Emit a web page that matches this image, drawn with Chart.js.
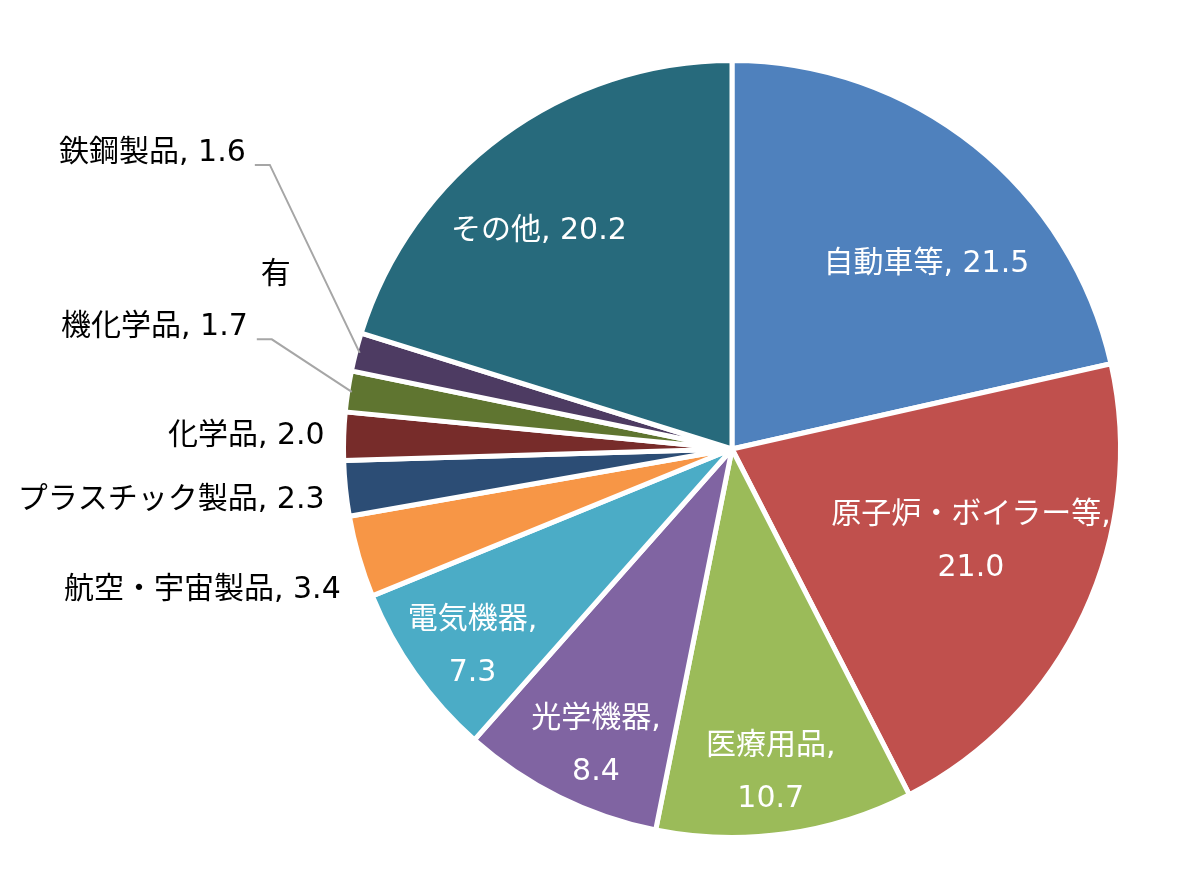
<!DOCTYPE html>
<html>
<head>
<meta charset="utf-8">
<script src="https://cdn.jsdelivr.net/npm/chart.js@4/dist/chart.umd.min.js"></script>
<style>
  html, body { margin: 0; padding: 0; background: #fff; }
  #wrap { width: 1200px; height: 881px; }
</style>
</head>
<body>
<div id="wrap"><canvas id="myChart" width="1200" height="881"></canvas></div>
<script>
// share of exports by item (%), clockwise from 12 o'clock
const categories = ['自動車等', '原子炉・ボイラー等', '医療用品', '光学機器', '電気機器',
                    '航空・宇宙製品', 'プラスチック製品', '化学品', '有機化学品', '鉄鋼製品', 'その他'];
const shares = [21.5, 21.0, 10.7, 8.4, 7.3, 3.4, 2.3, 2.0, 1.7, 1.6, 20.2];
const sliceColors = ['#4F81BD', '#C0504D', '#9BBB59', '#8064A2', '#4BACC6',
                     '#F79646', '#2C4D75', '#772C2A', '#5F7530', '#4D3B62', '#276A7C'];

const LABEL_FONT = "30px 'DejaVu Sans', 'Noto Sans CJK JP', sans-serif";
const LINE_H = 53;

// label placement: inside labels by angle shift (deg) + radius fraction,
// outside labels by offset from slice's outer midpoint (right aligned)
const labelLayout = [
  { inside: true, shift: 7.8, frac: 0.69, split: false },
  { inside: true, shift: -3.8, frac: 0.66, split: true },
  { inside: true, shift: 1.1, frac: 0.84, split: true },
  { inside: true, shift: -1.8, frac: 0.84, split: true },
  { inside: true, shift: -2.0, frac: 0.84, split: true },
  { inside: false, dx: -18, dy: 34 },
  { inside: false, dx: -21, dy: 12 },
  { inside: false, dx: -19, dy: 0 },
  { inside: false, dx: -100, dy: -64, wrapAt: 1, firstDx: -57, firstDy: -116, leader: true },
  { inside: false, dx: -110, dy: -199, leader: true },
  { inside: true, shift: -5.2, frac: 0.75, split: false }
];

const sliceLabels = {
  id: 'sliceLabels',
  afterDatasetsDraw(chart) {
    const ctx = chart.ctx;
    const meta = chart.getDatasetMeta(0);
    ctx.save();
    ctx.font = LABEL_FONT;
    ctx.textBaseline = 'middle';
    meta.data.forEach((arc, i) => {
      const p = arc.getProps(['x', 'y', 'startAngle', 'endAngle', 'outerRadius'], true);
      const mid = (p.startAngle + p.endAngle) / 2;
      const lay = labelLayout[i];
      const text = categories[i] + ', ' + shares[i].toFixed(1);
      if (lay.inside) {
        const a = mid + lay.shift * Math.PI / 180;
        const r = p.outerRadius * lay.frac;
        const x = p.x + Math.cos(a) * r;
        const y = p.y + Math.sin(a) * r;
        ctx.fillStyle = '#ffffff';
        ctx.textAlign = 'center';
        if (lay.split) {
          ctx.fillText(categories[i] + ',', x, y - LINE_H / 2);
          ctx.fillText(shares[i].toFixed(1), x, y + LINE_H / 2);
        } else {
          ctx.fillText(text, x, y);
        }
      } else {
        const ox = p.x + Math.cos(mid) * p.outerRadius;
        const oy = p.y + Math.sin(mid) * p.outerRadius;
        const x = ox + lay.dx;
        const y = oy + lay.dy;
        ctx.fillStyle = '#000000';
        ctx.textAlign = 'right';
        if (lay.wrapAt) {
          ctx.fillText(text.slice(0, lay.wrapAt), ox + lay.firstDx, oy + lay.firstDy);
          ctx.fillText(text.slice(lay.wrapAt), x, y);
        } else {
          ctx.fillText(text, x, y);
        }
        if (lay.leader) {
          const ex = p.x + Math.cos(mid) * (p.outerRadius - 4);
          const ey = p.y + Math.sin(mid) * (p.outerRadius - 4);
          ctx.strokeStyle = '#A6A6A6';
          ctx.lineWidth = 2;
          ctx.beginPath();
          ctx.moveTo(x + 9, y + 12);
          ctx.lineTo(x + 24, y + 12);
          ctx.lineTo(ex, ey);
          ctx.stroke();
        }
      }
    });
    ctx.restore();
  }
};

const ctx = document.getElementById('myChart');
const myChart = new Chart(ctx, {
  type: 'pie',
  data: {
    labels: categories,
    datasets: [{
      data: shares,
      backgroundColor: sliceColors,
      borderColor: '#ffffff',
      borderWidth: 5
    }]
  },
  options: {
    responsive: false,
    animation: false,
    devicePixelRatio: 1,
    layout: {
      padding: { top: 58, bottom: 41, left: 341, right: 77 }
    },
    plugins: {
      legend: { display: false },
      tooltip: { enabled: false }
    }
  },
  plugins: [sliceLabels]
});
</script>
</body>
</html>
